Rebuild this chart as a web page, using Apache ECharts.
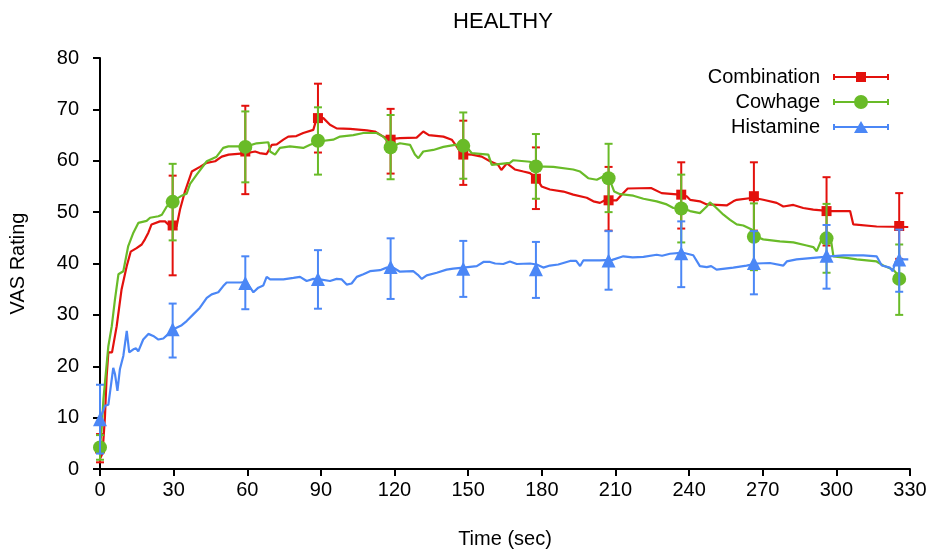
<!DOCTYPE html>
<html>
<head>
<meta charset="utf-8">
<script src="https://cdn.jsdelivr.net/npm/echarts@6/dist/echarts.min.js"></script>
<style>
html,body{margin:0;padding:0;background:#fff;}
#chart{width:932px;height:554px;}
</style>
</head>
<body>
<div id="chart"></div>
<script>
// ---- data ----
const seriesNames = ['Combination', 'Cowhage', 'Histamine'];
const markerTimes = [0, 29.6, 59.2, 88.8, 118.4, 148, 177.6, 207.2, 236.8, 266.4, 296, 325.6];

const combMean = [4.0, 47.4, 61.8, 68.3, 64.1, 61.2, 56.5, 52.3, 53.4, 53.1, 50.2, 47.3];
const combLow  = [1.3, 37.7, 53.5, 61.6, 57.5, 55.3, 50.6, 46.4, 46.8, 46.4, 43.5, 40.9];
const combHigh = [6.8, 57.1, 70.7, 75.0, 70.1, 67.8, 62.6, 58.8, 59.7, 59.7, 56.8, 53.7];

const cowMean = [4.2, 52.0, 62.7, 63.9, 62.6, 62.9, 58.9, 56.6, 50.7, 45.2, 44.9, 37.0];
const cowLow  = [1.8, 44.5, 55.8, 57.3, 56.4, 56.5, 52.6, 50.0, 44.1, 38.7, 38.2, 30.0];
const cowHigh = [6.6, 59.4, 69.6, 70.4, 68.9, 69.4, 65.2, 63.3, 57.3, 51.7, 51.6, 43.7];

const hisMean = [9.7, 27.2, 36.2, 37.0, 39.3, 39.0, 38.9, 40.6, 42.0, 40.1, 41.5, 40.8];
const hisLow  = [3.0, 21.7, 31.1, 31.2, 33.1, 33.5, 33.3, 34.9, 35.4, 34.0, 35.1, 34.5];
const hisHigh = [16.4, 32.2, 41.4, 42.6, 44.9, 44.4, 44.2, 46.3, 48.2, 46.3, 47.5, 46.6];

const combTrace = [[0,2],[1,3],[2,10],[2.7,18],[3.4,22.7],[4.9,22.7],[6.8,27.8],[8.8,35],[10.9,39.5],[12.5,42.3],[14.9,43],[17,43.7],[18.3,44.7],[19.7,46],[21,47.6],[24.4,48.2],[26.5,48.2],[27.8,47.6],[31.2,47.2],[32.6,50.5],[34.6,54],[37.4,57.9],[40.7,58.8],[43.5,59.6],[46.9,59.9],[49.6,60.8],[52.4,61.2],[59.8,61.5],[63.2,61.8],[65,61.5],[67.9,61.3],[70,63.1],[72,63.2],[74.7,64.1],[76.7,64.7],[80,64.8],[82.8,65.4],[86.9,66],[88.3,68.3],[91,68.3],[93.7,67],[96.4,66.3],[101.9,66.2],[108.7,65.9],[112,65.7],[115.4,64.7],[118.1,64.2],[122.2,64.4],[129,64.5],[131.7,65.7],[134,65],[139.9,64.7],[143.3,64.1],[145.3,62.8],[147.4,61.3],[151.5,61.2],[155.5,60.8],[158.9,59.9],[162.2,59.2],[163.5,58.2],[165.8,59.5],[169,58.3],[172.5,57.9],[175.2,57.6],[177.9,56.6],[179.9,55],[183.3,54.4],[188.8,54],[192.8,53.4],[198.3,52.8],[201,52.1],[203.7,51.8],[205.7,52.3],[210.5,52.3],[212.5,53.4],[215,54.6],[224.5,54.7],[228.8,53.7],[236.2,53.4],[239,53.1],[240.4,52.4],[244.4,52.1],[247.2,51.5],[255.3,51.3],[258,52.1],[259.4,52.4],[266.2,52.8],[270.2,52.4],[275.7,51.8],[278.4,51.1],[282.5,51.4],[286.5,50.8],[290.6,50.5],[297.4,50.2],[305.6,50.2],[306.9,47.6],[316.4,47.2],[329.3,47.1]];

const cowTrace = [[0,4.2],[0.7,8],[1.4,13.6],[3.4,23.9],[4.8,27.8],[6.1,33],[7.5,37.9],[9.5,38.5],[11.5,43.4],[13.6,46],[15.6,47.9],[19,48.3],[20.4,48.9],[23.8,49.2],[25.2,49.5],[27.2,51.1],[29.6,52.1],[33.3,53.2],[35.3,53.6],[36.7,55.5],[39.4,57.3],[43.5,59.9],[47.5,60.8],[50.2,62.5],[52.3,62.8],[59.8,62.8],[63.8,63.4],[68.6,63.6],[69.3,61.8],[71.3,61.2],[73.3,62.5],[77.4,62.8],[82.8,62.5],[85.6,63.1],[89.6,63.8],[95,64.1],[97.8,64.7],[103.2,65],[107.3,65.4],[110,65.4],[112.7,65.4],[115.4,64.7],[118.8,62.8],[122.2,63.4],[126.3,63.1],[128.3,61.2],[129.7,60.5],[131.7,61.8],[135.8,62.1],[139.9,62.7],[144.6,63.1],[148.7,63.1],[151.4,61.5],[158.2,61.2],[159.6,59.2],[167,59.6],[168.4,60.1],[175.2,59.8],[177.9,58.9],[184.7,58.8],[192.8,58.3],[195.6,57.9],[198.9,56.6],[202.4,56.3],[204.4,56.8],[207.4,56.6],[209.5,54],[211.9,53.5],[217.3,53.2],[221.4,52.6],[226.8,52.1],[230.9,51.5],[233.6,50.8],[238.3,50.6],[240.4,50.2],[244.4,49.8],[247.2,51.1],[248.5,51.9],[250.5,51.1],[254,49.5],[256.7,48.5],[259.4,47.6],[262.1,47.4],[265.5,46.6],[266.8,45.3],[270.2,44.7],[277,44.3],[282.5,44.1],[287.9,43.5],[290.6,43.2],[292,42.4],[294,44.7],[297.6,45.2],[298.8,41.4],[304.2,41.1],[308.3,40.8],[316.4,40.4],[319.1,39.6],[323.2,38.8],[326.6,37.0]];

const hisTrace = [[0,9.7],[0.7,9.7],[2,12.3],[3.4,12.5],[5.4,19.7],[6.1,18.5],[7.1,15.2],[8.1,19.4],[9.5,22],[10.9,26.9],[11.9,22.7],[13.6,23.3],[14.7,23.5],[15.6,22.9],[17.6,25.2],[19.7,26.3],[21.7,25.9],[23.8,25.2],[25.8,25.4],[27.2,26],[29.9,27.2],[33.3,28],[35.3,28.8],[38,30.1],[40.7,31.4],[43.5,33.3],[45.5,34],[48.2,34.4],[50.2,35.6],[51.6,36.3],[57,36.3],[59.7,36.4],[62.5,34.4],[64.5,35.3],[66.5,35.7],[67.9,37.4],[69.3,36.9],[74.7,36.9],[78.8,37.2],[81.5,37.4],[84.2,36.6],[86.9,37],[89.6,36.9],[93.7,36.6],[96.4,37],[98.5,36.9],[100.5,35.9],[102.5,36.1],[104.6,37.4],[107.3,37.9],[110,38.5],[114.1,38.7],[116.8,39.2],[119.5,39.2],[122.2,38.4],[127.6,38.5],[129.5,37.8],[131.1,37],[133.1,37.7],[137.2,38.2],[141.2,38.8],[143.9,39],[148,39.2],[153.5,39.5],[156.2,40.3],[158.9,40.3],[161,40],[164.3,39.9],[167,40.4],[169.8,39.9],[175.2,40],[177.9,39.8],[180.6,39.2],[183.3,39.6],[186.7,39.8],[191.5,40.5],[194,40.5],[195.6,39.5],[196.9,40.6],[203.7,40.6],[208.7,40.7],[213.2,41.4],[217,41.2],[221.4,41.3],[226.8,41.7],[229,41.5],[232.2,41.9],[237.6,42.1],[241.7,41.6],[244.4,39.5],[247.2,39.3],[249,39.5],[251.2,38.8],[258,39.2],[263.4,39.6],[267.5,40],[272.9,40.1],[278.4,39.6],[279.8,40.4],[283.8,40.8],[290.6,41.1],[297.4,41.4],[302.8,41.6],[311,41.6],[316.4,41.4],[318.5,39.6],[321.8,39.2],[323,38.5],[324.1,40.4],[326.8,40.8],[329.3,40.8]];

const xTicks = [0, 30, 60, 90, 120, 150, 180, 210, 240, 270, 300, 330];
const yTicks = [0, 10, 20, 30, 40, 50, 60, 70, 80];

// ---- styling ----
const colors = ['#e3110d', '#69bb28', '#4b87f6'];
const symbols = ['rect', 'circle', 'triangle'];
const symbolSizes = [10, 14, 14];
const FONT = '"Liberation Sans", Arial, Helvetica, sans-serif';
const FS = 20;

const frame = 'M0,0 L0.01,0 L0,0.01 Z M56,14 L55.99,14 L56,13.99 Z ';
const bar = 'M0,4 L2,4 L2,10 L0,10 Z M2,6 L54,6 L54,8 L2,8 Z M54,4 L56,4 L56,10 L54,10 Z ';
const legendIcons = [
  'path://' + frame + bar + 'M23,2 L33,2 L33,12 L23,12 Z',
  'path://' + frame + bar + 'M21,7 A7,7 0 1 1 35,7 A7,7 0 1 1 21,7 Z',
  'path://' + frame + bar + 'M21,13 L28,1 L35,13 Z'
];

function errRender(color) {
  return function (params, api) {
    const x = api.value(0), lo = api.value(1), hi = api.value(2);
    const p1 = api.coord([x, lo]), p2 = api.coord([x, hi]);
    const w = 4;
    const style = { stroke: color, lineWidth: 2, fill: null };
    return {
      type: 'group',
      children: [
        { type: 'line', shape: { x1: p1[0], y1: p1[1], x2: p2[0], y2: p2[1] }, style: style },
        { type: 'line', shape: { x1: p1[0] - w, y1: p1[1], x2: p1[0] + w, y2: p1[1] }, style: style },
        { type: 'line', shape: { x1: p2[0] - w, y1: p2[1], x2: p2[0] + w, y2: p2[1] }, style: style }
      ]
    };
  };
}

const groups = [
  { trace: combTrace, mean: combMean, low: combLow, high: combHigh },
  { trace: cowTrace, mean: cowMean, low: cowLow, high: cowHigh },
  { trace: hisTrace, mean: hisMean, low: hisLow, high: hisHigh }
];

const series = [];
groups.forEach(function (g, i) {
  series.push({
    name: seriesNames[i], type: 'line', data: g.trace, showSymbol: false, symbol: 'none',
    lineStyle: { color: colors[i], width: 2.2 }, itemStyle: { color: colors[i] },
    z: 2 + i, silent: true
  });
  series.push({
    name: seriesNames[i], type: 'custom', renderItem: errRender(colors[i]),
    data: markerTimes.map(function (t, k) { return [t, g.low[k], g.high[k]]; }),
    encode: { x: 0, y: [1, 2] }, itemStyle: { color: colors[i] }, z: 2 + i, silent: true
  });
  series.push({
    name: seriesNames[i], type: 'scatter', symbol: symbols[i], symbolSize: symbolSizes[i],
    data: markerTimes.map(function (t, k) { return [t, g.mean[k]]; }),
    itemStyle: { color: colors[i], opacity: 1 }, z: 2 + i, silent: true
  });
});

const chart = echarts.init(document.getElementById('chart'), null, { renderer: 'canvas' });
chart.setOption({
  animation: false,
  backgroundColor: '#ffffff',
  title: {
    text: 'HEALTHY', left: 498, textAlign: 'center', top: 6,
    textStyle: { fontFamily: FONT, fontSize: 22, fontWeight: 'normal', color: '#000' }
  },
  legend: {
    orient: 'vertical', right: 43, top: 66, align: 'right', padding: 0,
    itemWidth: 56, itemHeight: 14, itemGap: 3,
    data: seriesNames.map(function (n, i) { return { name: n, icon: legendIcons[i], itemStyle: { color: colors[i] } }; }),
    textStyle: { fontFamily: FONT, fontSize: FS, color: '#000', lineHeight: 22, padding: [0, 8, 0, 0] },
    selectedMode: false
  },
  grid: { left: 100, right: 22, top: 58, bottom: 84, containLabel: false },
  xAxis: {
    type: 'value', min: xTicks[0], max: xTicks[xTicks.length - 1], interval: 30,
    name: 'Time (sec)', nameLocation: 'middle', nameGap: 60,
    nameTextStyle: { fontFamily: FONT, fontSize: FS, color: '#000' },
    axisLine: { show: true, onZero: false, lineStyle: { color: '#000', width: 2 } },
    axisTick: { show: true, inside: false, length: 7, lineStyle: { color: '#000', width: 2 } },
    axisLabel: { fontFamily: FONT, fontSize: FS, color: '#000', margin: 11 },
    splitLine: { show: false }
  },
  yAxis: {
    type: 'value', min: yTicks[0], max: yTicks[yTicks.length - 1], interval: 10,
    name: 'VAS Rating', nameLocation: 'middle', nameGap: 72, nameRotate: 90,
    nameTextStyle: { fontFamily: FONT, fontSize: FS, color: '#000' },
    axisLine: { show: true, lineStyle: { color: '#000', width: 2 } },
    axisTick: { show: true, inside: false, length: 7, lineStyle: { color: '#000', width: 2 } },
    axisLabel: { fontFamily: FONT, fontSize: FS, color: '#000', margin: 21 },
    splitLine: { show: false }
  },
  series: series
});
</script>
</body>
</html>
